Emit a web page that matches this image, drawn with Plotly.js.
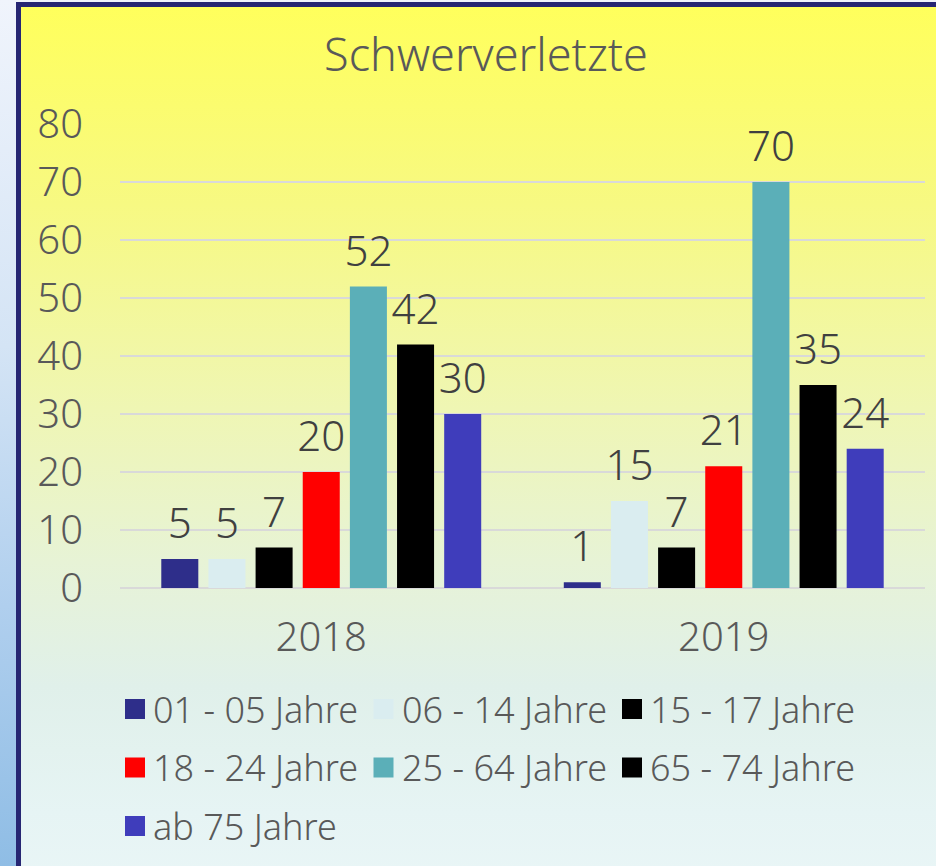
<!DOCTYPE html>
<html>
<head>
<meta charset="utf-8">
<script src="https://cdn.plot.ly/plotly-3.0.1.min.js"></script>
<style>
  html, body { margin:0; padding:0; width:936px; height:866px; overflow:hidden; }
  body { background: linear-gradient(to bottom, #f0f4fc 0%, #d4e4f5 40%, #b0cfee 70%, #8fbde5 100%); position:relative; }
  #panel { position:absolute; left:16px; top:2px; width:960px; height:900px; box-sizing:border-box;
           border-left:5px solid #262673; border-top:5px solid #262673;
           background: linear-gradient(to bottom, #ffff5c 0%, #f7f982 22%, #eff6b4 45%, #e7f3d6 62%, #e0f0ea 76%, #e6f4f4 90%, #eaf6f7 100%); }
  #chart { position:absolute; left:0; top:0; width:936px; height:866px; }
</style>
</head>
<body>
<div id="panel"></div>
<div id="chart"></div>
<script>
// ---- data ----
const years = ['2018', '2019'];
const seriesNames = ['01 - 05 Jahre', '06 - 14 Jahre', '15 - 17 Jahre', '18 - 24 Jahre', '25 - 64 Jahre', '65 - 74 Jahre', 'ab 75 Jahre'];
const v01_05 = [5, 1];
const v06_14 = [5, 15];
const v15_17 = [7, 7];
const v18_24 = [20, 21];
const v25_64 = [52, 70];
const v65_74 = [42, 35];
const vAb75  = [30, 24];
const seriesValues = [v01_05, v06_14, v15_17, v18_24, v25_64, v65_74, vAb75];
const seriesColors = ['#2e2e8a', '#daedf0', '#000000', '#ff0000', '#5bafb8', '#000000', '#3f3dbb'];
const yTicks = [0, 10, 20, 30, 40, 50, 60, 70, 80];

// ---- layout constants ----
const W = 936, H = 866, L = 120, R = 11, T = 124, B = 278;
const FONT = '"Noto Sans", "Open Sans", sans-serif';
const WT = 300;
const px2x = px => (px - L) / (W - L - R);
const py2y = py => (H - B - py) / (H - T - B);

const traces = seriesNames.map((name, i) => ({
  type: 'bar',
  name: name,
  x: years,
  y: seriesValues[i],
  marker: { color: seriesColors[i], line: { width: 0 } },
  texttemplate: '<sub>\u00a0</sub>%{y}<sub>\u00a0</sub>',
  textposition: 'outside',
  constraintext: 'none',
  cliponaxis: false,
  textfont: { family: FONT, size: 42, color: '#404040', weight: WT },
  hoverinfo: 'skip',
  showlegend: false
}));

// custom legend (large square keys like the reference)
const shapes = [];
const annotations = [];
const colPitch = 248.5, rowPitch = 58.5, keyLeft = 125, row0 = 709, key = 20;
seriesNames.forEach((name, i) => {
  const col = i % 3, row = Math.floor(i / 3);
  const x0 = keyLeft + col * colPitch;
  const yc = row0 + row * rowPitch;
  shapes.push({
    type: 'rect', xref: 'paper', yref: 'paper',
    x0: px2x(x0), x1: px2x(x0 + key),
    y0: py2y(yc + key / 2), y1: py2y(yc - key / 2),
    fillcolor: seriesColors[i], line: { width: 0 }
  });
  annotations.push({
    xref: 'paper', yref: 'paper', x: px2x(x0 + key + 6), y: py2y(yc),
    xanchor: 'left', yanchor: 'middle', showarrow: false,
    text: name, font: { family: FONT, size: 36, color: '#595959', weight: WT }
  });
});

const layout = {
  width: W, height: H,
  margin: { l: L, r: R, t: T, b: B, pad: 0 },
  paper_bgcolor: 'rgba(0,0,0,0)',
  plot_bgcolor: 'rgba(0,0,0,0)',
  font: { family: FONT, color: '#595959', weight: WT },
  title: {
    text: 'Schwerverletzte',
    font: { family: FONT, size: 45, color: '#595959', weight: WT },
    xref: 'container', yref: 'container',
    x: 486 / W, xanchor: 'center',
    y: 1 - 55 / H, yanchor: 'middle'
  },
  barmode: 'group',
  bargap: 0.18,
  bargroupgap: 0.215,
  xaxis: {
    type: 'category',
    showgrid: false, zeroline: false, showline: false,
    ticks: '',
    tickfont: { family: FONT, size: 40, color: '#595959', weight: WT },
    ticklabelstandoff: 22
  },
  yaxis: {
    range: [0, 80],
    tickvals: yTicks,
    ticktext: yTicks.map(String),
    showgrid: true, gridcolor: '#d9d9d9', gridwidth: 2,
    zeroline: true, zerolinecolor: '#d9d9d9', zerolinewidth: 2,
    showline: false, ticks: '',
    tickfont: { family: FONT, size: 40, color: '#595959', weight: WT },
    ticklabelstandoff: 36
  },
  shapes: shapes,
  annotations: annotations,
  showlegend: false
};

Plotly.newPlot('chart', traces, layout, { displayModeBar: false, staticPlot: true });
</script>
</body>
</html>
